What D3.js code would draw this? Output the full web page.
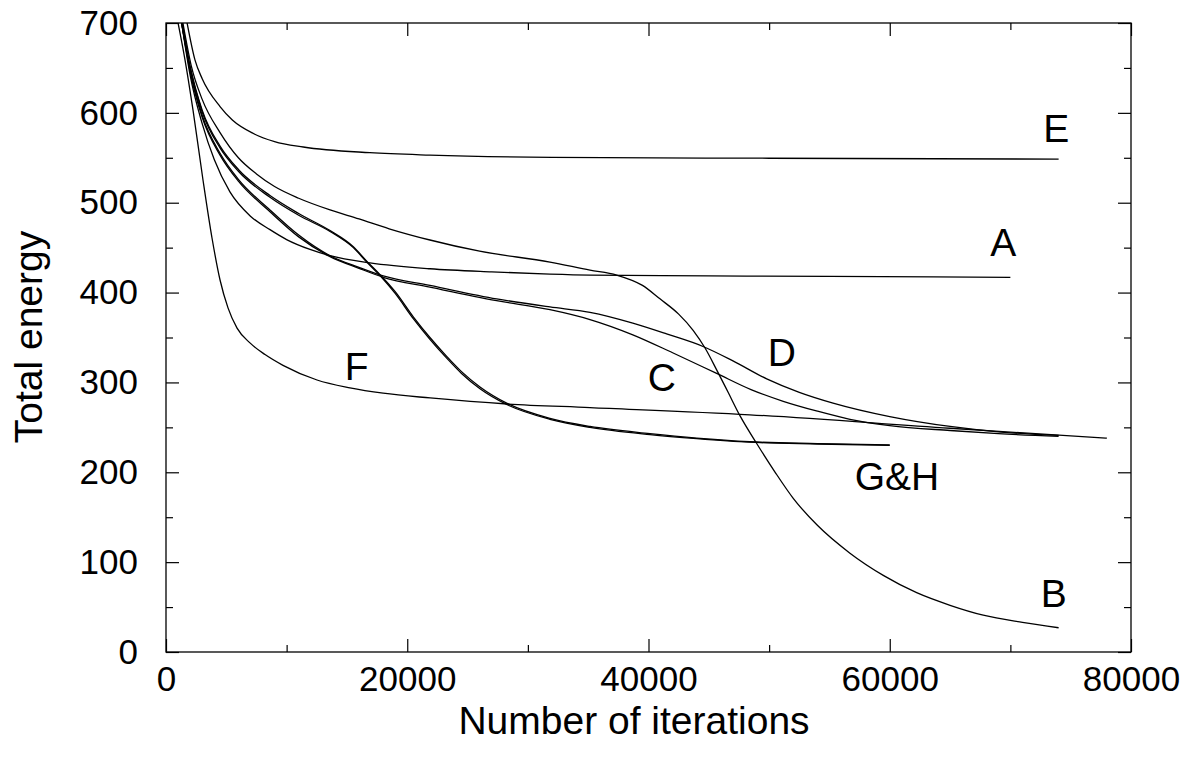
<!DOCTYPE html>
<html>
<head>
<meta charset="utf-8">
<script src="https://cdn.jsdelivr.net/npm/d3@7"></script>
<style>
  body { margin: 0; background: #fff; }
  svg text { font-family: "Liberation Sans", Arial, Helvetica, sans-serif; fill: #000; }
</style>
</head>
<body>
<script>
const W = 1194;
const H = 758;

// [iterations, total energy]
const seriesA = [[1300,700],[2000,642],[3000,588],[4000,548],[5300,512],[7000,485],[8620,470],[10000,459],[11940,448],[13600,441],[16910,433],[21880,426.5],[27000,423],[31830,420.6],[35150,419.5],[45000,418.5],[55000,418],[70000,417]];
const seriesB = [[1400,700],[2100,652],[3000,615],[4480,578],[6000,550],[7500,532],[9000,518],[11000,505],[13600,492],[16000,482],[18500,471],[21880,458.5],[26000,446],[31830,434],[35150,425],[37360,419.5],[39500,408],[40950,393],[42500,376],[43700,358],[44700,338],[45650,314],[46600,289],[47580,263],[48970,232],[50500,200],[52000,171],[54000,141],[56700,110],[59500,85],[62230,66],[65000,52],[67750,41],[71000,33],[74000,27]];
const seriesC = [[1300,700],[2000,646],[3000,595],[4480,553],[6000,524],[8620,490],[11000,462],[13600,440],[16000,427],[18010,417],[21880,406],[27410,391],[31830,381],[35150,370],[38700,353],[42000,333],[45650,310],[48500,292],[51170,279],[54000,268],[56700,259],[60000,252],[65000,246.5],[69000,243],[74000,240]];
const seriesD = [[1300,700],[2000,648],[3000,597],[4480,555],[6000,526],[8620,492],[11000,464],[13600,441],[16000,428],[18010,418.5],[21880,408],[27410,393],[31830,384],[35150,378],[38700,366],[41500,354],[44520,340],[47000,324],[49800,304],[52500,289],[55300,277],[60000,262],[65000,251],[69000,245],[74000,241]];
const seriesE = [[1750,700],[2400,659],[3000,638],[4480,607],[5500,592],[7240,577],[9000,568],[11380,562],[16900,555.7],[21880,553],[32000,550.5],[50000,549.5],[74000,548.5]];
const seriesF = [[1000,700],[1575,659],[2240,603],[3070,525],[3810,461],[4480,414],[5140,383],[5890,360.5],[6960,344],[8210,331],[9700,319],[12520,302.7],[15250,294],[18000,288],[21900,282.7],[28270,276],[35150,272],[48400,264],[65000,249],[78000,238]];
const seriesG = [[1350,700],[2000,652],[3000,603],[4480,563],[6000,537],[8620,508],[11000,488],[13600,469],[15530,451],[16640,435],[17740,420],[19000,401],[20500,373],[21880,350],[23270,329],[24500,312],[26030,295],[28240,277],[31830,260],[35150,251],[40120,243],[44000,238],[48400,234],[54000,232],[60000,230.5]];
const seriesH = [[1300,700],[2000,650],[3000,601],[4480,561],[6000,535],[8620,506],[11000,486],[13600,468],[15530,450],[16640,434],[17740,419],[19000,399],[20500,371],[21880,348],[23270,327],[24500,310],[26030,293],[28240,275.5],[31830,259],[35150,250],[40120,242],[44000,237.5],[48400,233.5],[54000,231.5],[60000,230]];

const allSeries = [seriesA, seriesB, seriesC, seriesD, seriesE, seriesF, seriesG, seriesH];

// curve labels: text, iterations, energy (baseline anchor)
const labelTexts = ["E", "A", "D", "C", "F", "G&H", "B"];
const labelIters = [73800, 69400, 51050, 41100, 15800, 60600, 73600];
const labelEnergy = [568, 441, 318, 291, 303, 180, 50];

const xMajor = [0, 20000, 40000, 60000, 80000];
const xMinor = [10000, 30000, 50000, 70000];
const yMajor = [0, 100, 200, 300, 400, 500, 600, 700];
const yMinor = [50, 150, 250, 350, 450, 550, 650];

const plotLeft = 166, plotRight = 1131, plotTop = 23, plotBottom = 652;

const x = d3.scaleLinear().domain([0, 80000]).range([plotLeft, plotRight]);
const y = d3.scaleLinear().domain([0, 700]).range([plotBottom, plotTop]);

const svg = d3.select("body").append("svg")
    .attr("width", W)
    .attr("height", H);

svg.append("clipPath").attr("id", "plot")
  .append("rect")
    .attr("x", plotLeft).attr("y", plotTop)
    .attr("width", plotRight - plotLeft).attr("height", plotBottom - plotTop);

// ticks on all four sides, pointing inward
const tickAxis = (axis, pos, values, len, labels) => {
    const g = svg.append("g")
        .attr("transform", pos)
        .call(axis.tickValues(values).tickSize(-len).tickPadding(labels ? 14 : 0)
            .tickFormat(labels ? d3.format("d") : ""));
    g.select(".domain").remove();
    g.selectAll(".tick line").attr("stroke", "#000").attr("stroke-width", 1.2);
    g.selectAll("text").style("font-size", "35px").attr("fill", "#000");
    return g;
};

tickAxis(d3.axisBottom(x), `translate(0,${plotBottom})`, xMajor, 13, true);
tickAxis(d3.axisBottom(x), `translate(0,${plotBottom})`, xMinor, 7, false);
tickAxis(d3.axisTop(x), `translate(0,${plotTop})`, xMajor, 13, false);
tickAxis(d3.axisTop(x), `translate(0,${plotTop})`, xMinor, 7, false);
tickAxis(d3.axisLeft(y), `translate(${plotLeft},0)`, yMajor, 13, false);
tickAxis(d3.axisLeft(y), `translate(${plotLeft},0)`, yMinor, 7, false);
tickAxis(d3.axisRight(y), `translate(${plotRight},0)`, yMajor, 13, false);
tickAxis(d3.axisRight(y), `translate(${plotRight},0)`, yMinor, 7, false);

// y tick labels
svg.append("g")
    .attr("transform", `translate(${plotLeft},0)`)
    .call(d3.axisLeft(y).tickValues(yMajor).tickSize(0).tickPadding(28).tickFormat(d3.format("d")))
    .call(g => g.select(".domain").remove())
    .call(g => g.selectAll("line").remove())
    .selectAll("text").style("font-size", "35px").attr("fill", "#000");

// frame
svg.append("rect")
    .attr("x", plotLeft).attr("y", plotTop)
    .attr("width", plotRight - plotLeft).attr("height", plotBottom - plotTop)
    .attr("fill", "none")
    .attr("stroke", "#000")
    .attr("stroke-width", 1.3);

const line = d3.line()
    .x(d => x(d[0]))
    .y(d => y(d[1]))
    .curve(d3.curveMonotoneX);

svg.append("g")
    .attr("clip-path", "url(#plot)")
  .selectAll("path")
  .data(allSeries)
  .enter()
  .append("path")
    .attr("d", line)
    .attr("fill", "none")
    .attr("stroke", "#000")
    .attr("stroke-width", 1.3);

svg.append("g")
  .selectAll("text")
  .data(labelTexts)
  .enter()
  .append("text")
    .attr("x", (d, i) => x(labelIters[i]))
    .attr("y", (d, i) => y(labelEnergy[i]))
    .attr("text-anchor", "middle")
    .style("font-size", "39px")
    .text(d => d);

// axis titles
svg.append("text")
    .attr("x", 634)
    .attr("y", 734)
    .attr("text-anchor", "middle")
    .style("font-size", "39px")
    .text("Number of iterations");

svg.append("text")
    .attr("transform", "translate(42,337) rotate(-90)")
    .attr("text-anchor", "middle")
    .style("font-size", "39px")
    .text("Total energy");
</script>
</body>
</html>
